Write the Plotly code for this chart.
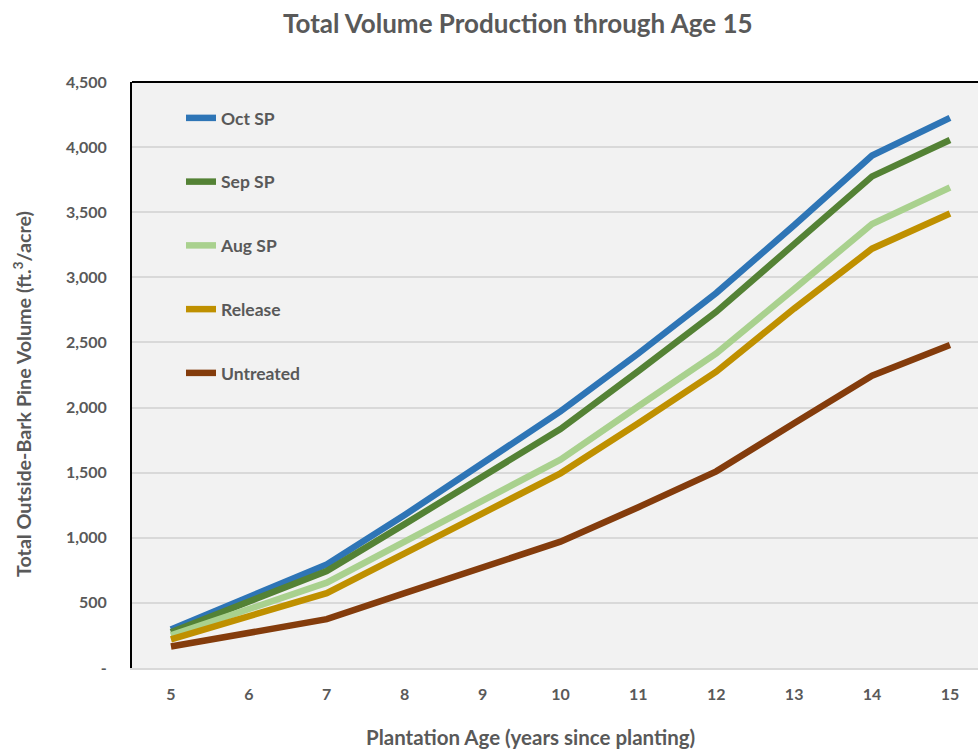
import plotly.graph_objects as go

ages = [5, 6, 7, 8, 9, 10, 11, 12, 13, 14, 15]
oct_sp = [295, 540, 795, 1175, 1575, 1970, 2415, 2880, 3400, 3935, 4225]
sep_sp = [275, 505, 745, 1105, 1470, 1835, 2280, 2735, 3255, 3775, 4055]
aug_sp = [250, 450, 655, 970, 1285, 1600, 2010, 2415, 2910, 3410, 3690]
release = [220, 395, 575, 880, 1185, 1495, 1880, 2275, 2760, 3220, 3490]
untreated = [165, 270, 375, 575, 770, 970, 1235, 1510, 1880, 2245, 2480]

series_names = ["Oct SP", "Sep SP", "Aug SP", "Release", "Untreated"]
series_values = [oct_sp, sep_sp, aug_sp, release, untreated]
series_colors = ["#2e75b6", "#548235", "#a9d18e", "#bf9000", "#843c0c"]

y_tickvals = [0, 500, 1000, 1500, 2000, 2500, 3000, 3500, 4000, 4500]
y_ticktext = ["-", "500", "1,000", "1,500", "2,000", "2,500", "3,000", "3,500", "4,000", "4,500"]

TXT = "#595959"
FONT = "Lato"
W, H = 978, 749
L, R, T, B = 132, 0, 82, 81
PW, PH = W - L - R, H - T - B

fig = go.Figure()
for i, (name, vals, col) in enumerate(zip(series_names, series_values, series_colors)):
    fig.add_trace(go.Scatter(
        x=ages, y=vals, name=name, mode="lines",
        line=dict(color=col, width=6.5),
        legendgroup=f"g{i}",
    ))

fig.update_layout(
    width=W, height=H,
    margin=dict(l=L, r=R, t=T, b=B),
    paper_bgcolor="white",
    plot_bgcolor="#f2f2f2",
    font=dict(family=FONT, color=TXT),
    showlegend=True,
    legend=dict(
        x=(181 - L) / PW, y=1 - (100 - T) / PH, xref="paper", yref="paper",
        xanchor="left", yanchor="top",
        bgcolor="rgba(0,0,0,0)",
        font=dict(family=FONT, size=17.5, color=TXT, weight="bold"),
        tracegroupgap=38,
        traceorder="grouped",
    ),
    xaxis=dict(
        range=[4.5, 15.36],
        tickvals=ages,
        showgrid=False,
        zeroline=False,
        showline=True, linecolor="#d9d9d9", linewidth=2,
        ticks="outside", ticklen=11, tickcolor="rgba(0,0,0,0)",
        tickfont=dict(family=FONT, size=16, color=TXT, weight="bold"),
    ),
    yaxis=dict(
        range=[0, 4500],
        tickvals=y_tickvals,
        ticktext=y_ticktext,
        showgrid=True, gridcolor="#d9d9d9", gridwidth=2,
        zeroline=False,
        showline=True, linecolor="black", linewidth=2,
        ticks="outside", ticklen=20, tickcolor="rgba(0,0,0,0)",
        tickfont=dict(family=FONT, size=16, color=TXT, weight="bold"),
    ),
    shapes=[dict(type="line", xref="paper", yref="paper", x0=0, x1=1, y0=1, y1=1,
                 line=dict(color="black", width=2))],
    annotations=[
        dict(text="Total Volume Production through Age 15", xref="paper", yref="paper",
             x=(518 - L) / PW, y=1 + (T - 23) / PH, xanchor="center", yanchor="middle",
             showarrow=False, font=dict(family=FONT, size=26, color=TXT, weight="bold")),
        dict(text="Plantation Age (years since planting)", xref="paper", yref="paper",
             x=(530 - L) / PW, y=-(737 - (H - B)) / PH, xanchor="center", yanchor="middle",
             showarrow=False, font=dict(family=FONT, size=20.5, color=TXT, weight="bold")),
        dict(text="Total Outside-Bark Pine Volume (ft.<sup>3</sup>/acre)", xref="paper", yref="paper",
             x=-(L - 22) / PW, y=((H - B) - 394) / PH, xanchor="center", yanchor="middle",
             textangle=-90,
             showarrow=False, font=dict(family=FONT, size=19.7, color=TXT, weight="bold")),
    ],
)

fig.write_html("out.html", config={"displayModeBar": False},
               post_script="document.body.style.margin='0';document.body.style.overflow='hidden';")
